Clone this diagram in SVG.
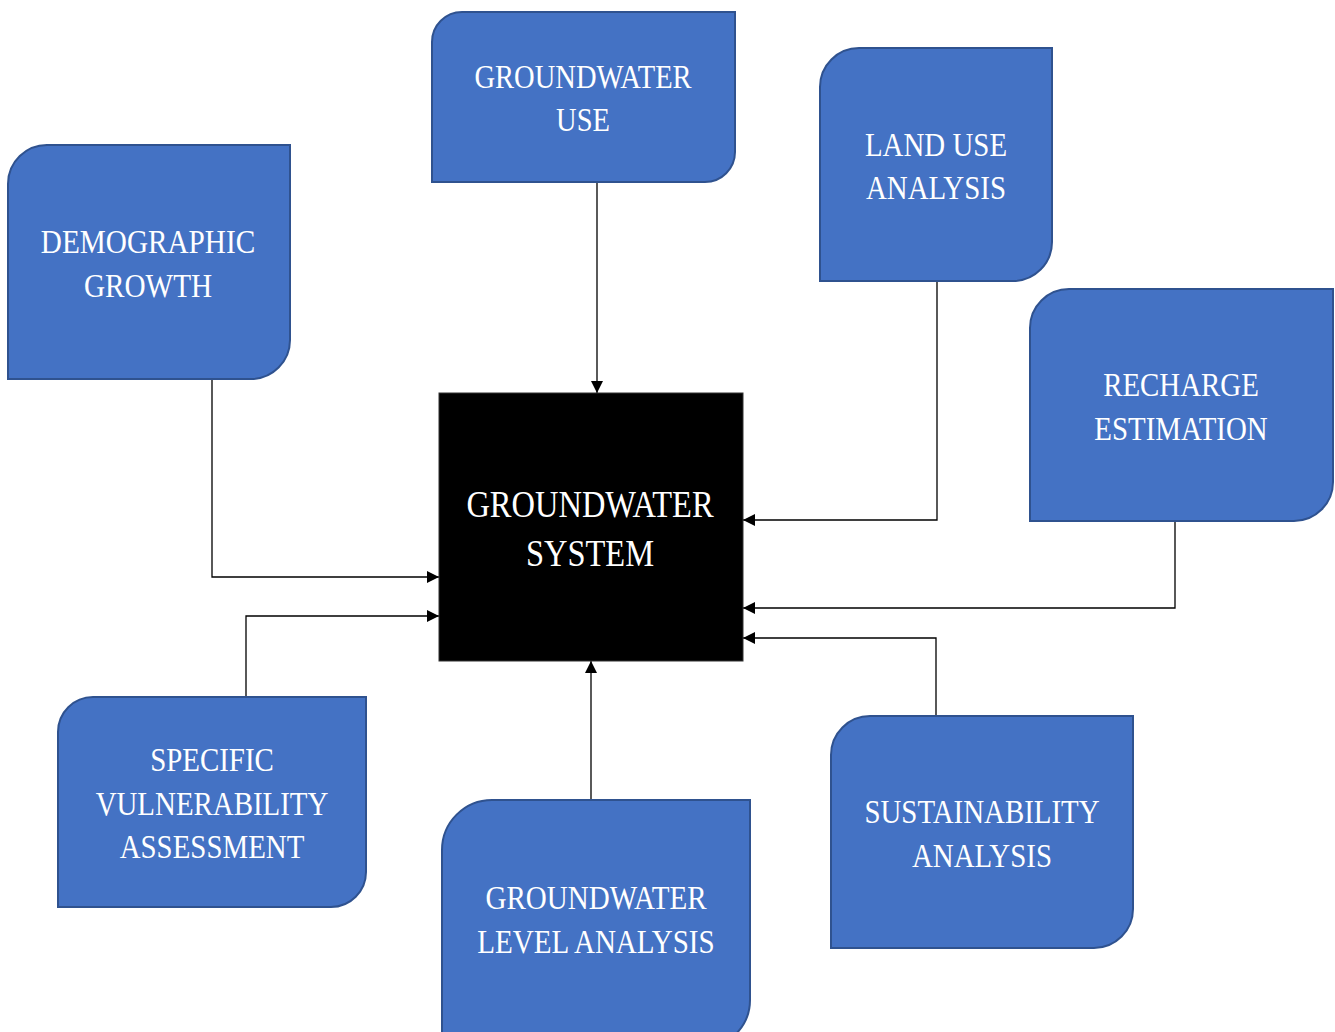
<svg xmlns="http://www.w3.org/2000/svg" width="1335" height="1032" viewBox="0 0 1335 1032">
<defs>
<style>
.box{fill:#4472C4;stroke:#2F528F;stroke-width:2}
.lbl{font-family:"Liberation Serif","Times New Roman",serif;font-size:34px;fill:#ffffff;text-anchor:middle}
.big{font-size:38px}
.con{fill:none;stroke:#000;stroke-width:1.3}
</style>
<marker id="arr" viewBox="0 0 12 12" refX="12" refY="6" markerWidth="12" markerHeight="12" markerUnits="userSpaceOnUse" orient="auto">
<path d="M0,0 L12,6 L0,12 Z" fill="#000"/>
</marker>
</defs>
<rect width="1335" height="1032" fill="#ffffff"/>
<g id="connectors">
<path class="con" marker-end="url(#arr)" d="M597,183 V393"/>
<path class="con" marker-end="url(#arr)" d="M937,281 V520 H743"/>
<path class="con" marker-end="url(#arr)" d="M1175,521 V608 H743"/>
<path class="con" marker-end="url(#arr)" d="M936,716 V638 H743"/>
<path class="con" marker-end="url(#arr)" d="M591,800 V661"/>
<path class="con" marker-end="url(#arr)" d="M212,379 V577 H439"/>
<path class="con" marker-end="url(#arr)" d="M246,705 V616 H439"/>
</g>
<g id="center">
<rect x="439" y="393" width="304" height="268" fill="#000" stroke="#333" stroke-width="1"/>
<text class="lbl big" transform="matrix(0.855 0 0 1 590 0)"><tspan x="0" y="517">GROUNDWATER</tspan><tspan x="0" y="566">SYSTEM</tspan></text>
</g>
<g id="demographic">
<path class="box" d="M48,145 H290 V340 A39,39 0 0 1 251,379 H8 V184 A39,39 0 0 1 48,145 Z"/>
<text class="lbl" transform="matrix(0.86 0 0 1 148 0)"><tspan x="0" y="253">DEMOGRAPHIC</tspan><tspan x="0" y="297">GROWTH</tspan></text>
</g>
<g id="gwuse">
<path class="box" d="M462,12 H735 V152 A30,30 0 0 1 705,182 H432 V42 A30,30 0 0 1 462,12 Z"/>
<text class="lbl" transform="matrix(0.84 0 0 1 583 0)"><tspan x="0" y="88">GROUNDWATER</tspan><tspan x="0" y="131">USE</tspan></text>
</g>
<g id="landuse">
<path class="box" d="M859,48 H1052 V242 A39,39 0 0 1 1013,281 H820 V87 A39,39 0 0 1 859,48 Z"/>
<text class="lbl" transform="matrix(0.85 0 0 1 936 0)"><tspan x="0" y="156">LAND USE</tspan><tspan x="0" y="199">ANALYSIS</tspan></text>
</g>
<g id="recharge">
<path class="box" d="M1069,289 H1333 V482 A39,39 0 0 1 1294,521 H1030 V328 A39,39 0 0 1 1069,289 Z"/>
<text class="lbl" transform="matrix(0.85 0 0 1 1181 0)"><tspan x="0" y="396">RECHARGE</tspan><tspan x="0" y="440">ESTIMATION</tspan></text>
</g>
<g id="specific">
<path class="box" d="M93,697 H366 V872 A35,35 0 0 1 331,907 H58 V732 A35,35 0 0 1 93,697 Z"/>
<text class="lbl" transform="matrix(0.85 0 0 1 212 0)"><tspan x="0" y="771">SPECIFIC</tspan><tspan x="0" y="815">VULNERABILITY</tspan><tspan x="0" y="858">ASSESSMENT</tspan></text>
</g>
<g id="gwlevel">
<path class="box" d="M492,800 H750 V1000 A48,48 0 0 1 702,1048 H442 V850 A50,50 0 0 1 492,800 Z"/>
<text class="lbl" transform="matrix(0.855 0 0 1 596 0)"><tspan x="0" y="909">GROUNDWATER</tspan><tspan x="0" y="953">LEVEL ANALYSIS</tspan></text>
</g>
<g id="sustainability">
<path class="box" d="M870,716 H1133 V909 A39,39 0 0 1 1094,948 H831 V755 A39,39 0 0 1 870,716 Z"/>
<text class="lbl" transform="matrix(0.85 0 0 1 982 0)"><tspan x="0" y="823">SUSTAINABILITY</tspan><tspan x="0" y="867">ANALYSIS</tspan></text>
</g>
</svg>
